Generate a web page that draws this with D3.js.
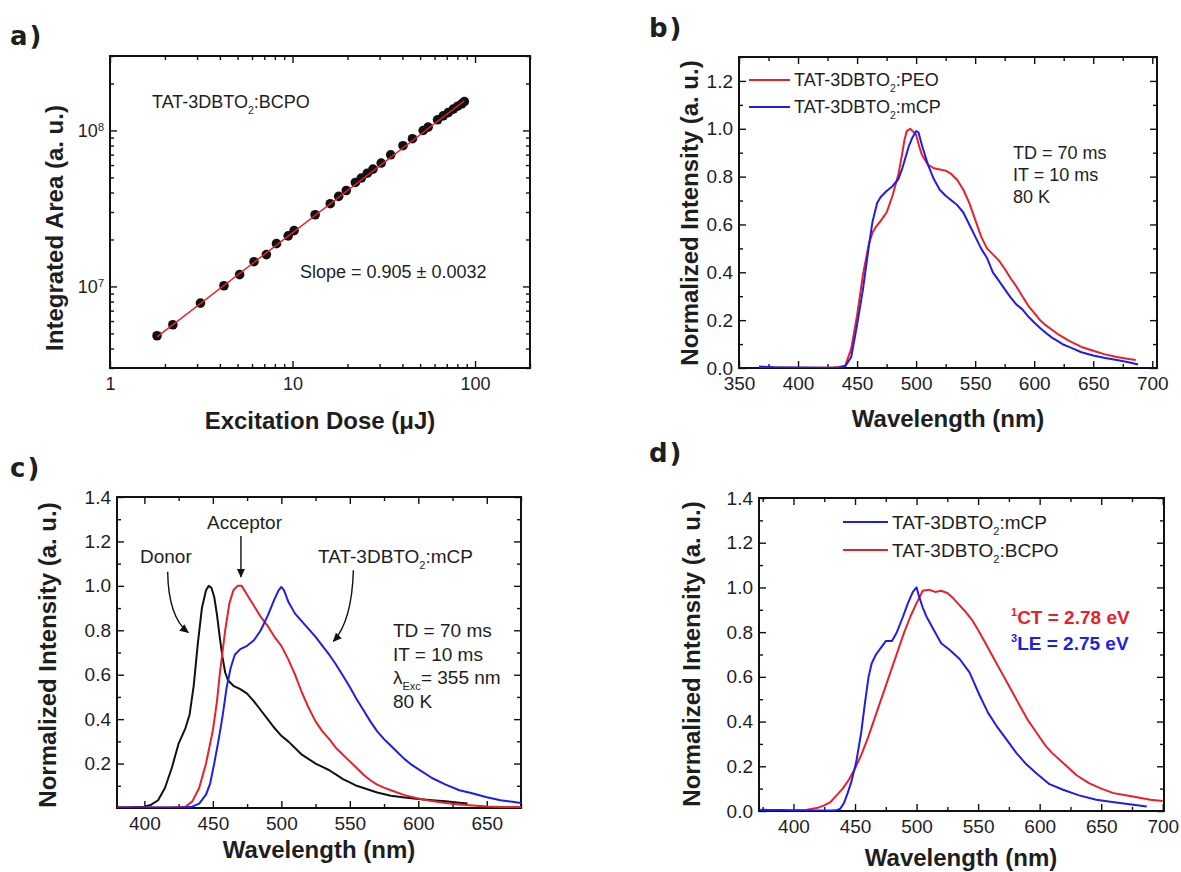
<!DOCTYPE html>
<html><head><meta charset="utf-8">
<script src="https://cdn.jsdelivr.net/npm/d3@7"></script>
<style>
body{margin:0;background:#fff;}
svg{display:block;}
text{font-family:"Liberation Sans",Arial,Helvetica,sans-serif;fill:#1e1e1e;}
</style>
</head><body>
<svg id="chart" width="1181" height="872"></svg>
<script>
// ---------- Panel a data ----------
const aDose = [1.81,2.21,3.13,4.21,5.13,6.15,7.19,8.17,9.47,10.2,13.3,16.1,17.9,19.7,22.1,23.8,25.7,27.6,30.6,34.5,40.3,45.4,52.0,55.3,62.3,66.9,71.3,76.0,80.3,84.5,87.4];
const aArea = [4.83e6,5.68e6,7.82e6,1.01e7,1.19e7,1.44e7,1.60e7,1.88e7,2.11e7,2.28e7,2.88e7,3.39e7,3.78e7,4.12e7,4.64e7,4.95e7,5.32e7,5.65e7,6.18e7,6.98e7,7.98e7,8.85e7,1.0e8,1.05e8,1.17e8,1.24e8,1.30e8,1.37e8,1.43e8,1.48e8,1.53e8];
const aFitDose = [1.81, 87.4];
const aFitArea = [4.75e6, 1.55e8];
const aXMajor = [1, 10, 100];
const aXMinor = [2,3,4,5,6,7,8,9,20,30,40,50,60,70,80,90,200];
const aYMajor = [1e7, 1e8];
const aYMinor = [3e6,4e6,5e6,6e6,7e6,8e6,9e6,2e7,3e7,4e7,5e7,6e7,7e7,8e7,9e7,2e8,3e8];

// ---------- Panel b data ----------
const bPEO = [[367,0.003],[380,0.002],[400,0.001],[420,0.001],[430,0.002],[435,0.004],[440,0.01],[445,0.08],[450,0.22],[455,0.39],[460,0.52],[463,0.565],[466,0.59],[470,0.615],[475,0.65],[480,0.72],[485,0.81],[488,0.89],[490,0.95],[492,0.99],[495,1.0],[497,0.99],[500,0.975],[503,0.92],[505,0.89],[510,0.85],[515,0.835],[520,0.83],[525,0.825],[530,0.81],[535,0.785],[540,0.745],[545,0.69],[550,0.62],[555,0.55],[560,0.50],[565,0.475],[570,0.45],[575,0.415],[580,0.375],[585,0.34],[590,0.30],[595,0.26],[600,0.23],[605,0.20],[610,0.178],[615,0.16],[620,0.142],[625,0.127],[630,0.112],[640,0.088],[650,0.072],[660,0.057],[670,0.046],[680,0.038],[686,0.033]];
const bMCP = [[367,0.006],[375,0.004],[380,0.003],[400,0.002],[420,0.001],[435,0.002],[440,0.008],[445,0.045],[450,0.18],[455,0.33],[460,0.51],[463,0.61],[465,0.65],[467,0.69],[470,0.715],[475,0.74],[480,0.76],[485,0.79],[488,0.83],[491,0.88],[494,0.93],[497,0.965],[500,0.99],[502,0.985],[505,0.93],[510,0.85],[515,0.79],[520,0.745],[525,0.72],[530,0.70],[535,0.68],[540,0.65],[545,0.60],[550,0.55],[555,0.50],[560,0.46],[565,0.40],[570,0.365],[575,0.33],[580,0.295],[585,0.265],[590,0.245],[595,0.215],[600,0.19],[605,0.167],[610,0.146],[615,0.127],[620,0.112],[625,0.097],[630,0.087],[640,0.066],[650,0.052],[660,0.042],[670,0.033],[680,0.024],[688,0.015]];
const bXMajor = [350,400,450,500,550,600,650,700];
const bXMinor = [375,425,475,525,575,625,675];
const bYMajor = [0,0.2,0.4,0.6,0.8,1.0,1.2];
const bYMinor = [0.1,0.3,0.5,0.7,0.9,1.1,1.3];

// ---------- Panel c data ----------
const cDonor = [[380,0.002],[390,0.003],[400,0.006],[405,0.015],[410,0.035],[415,0.09],[420,0.18],[425,0.29],[430,0.36],[433,0.42],[436,0.55],[439,0.74],[442,0.90],[445,0.98],[447,1.0],[449,0.99],[451,0.95],[453,0.87],[455,0.77],[457,0.68],[459,0.61],[461,0.575],[465,0.55],[470,0.535],[475,0.515],[480,0.48],[485,0.44],[490,0.40],[495,0.36],[500,0.325],[505,0.30],[510,0.27],[515,0.24],[520,0.22],[525,0.20],[530,0.185],[535,0.17],[540,0.15],[545,0.13],[550,0.115],[555,0.10],[560,0.09],[570,0.07],[580,0.055],[590,0.047],[600,0.04],[610,0.035],[620,0.03],[630,0.024],[636,0.02]];
const cAcceptor = [[380,0.002],[400,0.002],[420,0.002],[430,0.006],[435,0.03],[440,0.09],[445,0.2],[450,0.35],[453,0.48],[455,0.6],[457,0.7],[459,0.8],[462,0.92],[465,0.98],[468,1.0],[471,1.0],[474,0.97],[477,0.94],[480,0.91],[485,0.86],[490,0.82],[495,0.77],[500,0.73],[505,0.67],[510,0.60],[515,0.52],[520,0.45],[525,0.39],[530,0.345],[535,0.31],[540,0.27],[545,0.24],[550,0.21],[555,0.18],[560,0.15],[565,0.125],[570,0.105],[575,0.092],[580,0.08],[590,0.058],[600,0.043],[610,0.031],[620,0.022],[630,0.016],[640,0.011],[650,0.007],[660,0.005],[675,0.004]];
const cMCP = [[380,0.002],[400,0.002],[420,0.002],[430,0.003],[435,0.006],[440,0.02],[445,0.06],[448,0.11],[451,0.2],[454,0.3],[457,0.41],[460,0.54],[463,0.63],[466,0.69],[470,0.715],[475,0.73],[480,0.755],[485,0.80],[490,0.865],[495,0.94],[498,0.98],[500,0.995],[502,0.98],[505,0.93],[510,0.875],[515,0.84],[520,0.805],[525,0.77],[530,0.73],[535,0.69],[540,0.645],[545,0.595],[550,0.545],[555,0.49],[560,0.44],[565,0.39],[570,0.345],[575,0.31],[580,0.28],[585,0.25],[590,0.22],[595,0.195],[600,0.175],[610,0.135],[620,0.105],[630,0.08],[640,0.065],[650,0.048],[660,0.035],[670,0.027],[675,0.022]];
const cXMajor = [400,450,500,550,600,650];
const cXMinor = [425,475,525,575,625,675];
const cYMajor = [0.2,0.4,0.6,0.8,1.0,1.2,1.4];
const cYMinor = [0.1,0.3,0.5,0.7,0.9,1.1,1.3];

// ---------- Panel d data ----------
const dMCP = [[373,0.006],[380,0.005],[390,0.004],[400,0.003],[410,0.002],[420,0.002],[430,0.002],[435,0.003],[438,0.01],[441,0.035],[444,0.08],[447,0.13],[451,0.22],[455,0.35],[458,0.48],[461,0.6],[463.5,0.66],[467,0.70],[471,0.73],[475,0.76],[480,0.76],[484,0.80],[489,0.87],[493,0.93],[497,0.98],[500,1.0],[502,0.96],[505,0.91],[508,0.87],[513,0.82],[520,0.75],[527,0.72],[535,0.68],[543,0.62],[547,0.57],[551,0.52],[558,0.44],[565,0.38],[573,0.32],[581,0.26],[589,0.21],[597,0.17],[608,0.12],[619,0.095],[632,0.07],[646,0.05],[659,0.04],[673,0.03],[687,0.02]];
const dBCPO = [[400,0.003],[410,0.005],[420,0.015],[425,0.025],[430,0.04],[435,0.07],[440,0.10],[445,0.14],[450,0.19],[455,0.25],[460,0.32],[465,0.40],[470,0.48],[475,0.56],[480,0.64],[485,0.72],[490,0.80],[495,0.87],[500,0.93],[505,0.985],[510,0.99],[515,0.98],[520,0.985],[525,0.975],[530,0.95],[535,0.92],[540,0.89],[545,0.855],[550,0.81],[555,0.76],[560,0.71],[565,0.66],[570,0.61],[575,0.56],[580,0.51],[585,0.46],[590,0.41],[595,0.37],[600,0.33],[605,0.29],[610,0.26],[620,0.21],[630,0.16],[640,0.125],[650,0.10],[660,0.08],[670,0.07],[680,0.06],[690,0.05],[700,0.045]];
const dXMajor = [400,450,500,550,600,650,700];
const dXMinor = [375,425,475,525,575,625,675];
const dYMajor = [0,0.2,0.4,0.6,0.8,1.0,1.2,1.4];
const dYMinor = [0.1,0.3,0.5,0.7,0.9,1.1,1.3];

// ---------- styles ----------
const RED = "#e8202a", BLUE = "#1e1ee8", BLACK = "#111111";
const svg = d3.select("#chart");
const defs = svg.append("defs");
defs.append("marker").attr("id","arrow").attr("viewBox","0 0 10 10")
  .attr("refX",9).attr("refY",5).attr("markerWidth",9).attr("markerHeight",9)
  .attr("markerUnits","userSpaceOnUse").attr("orient","auto")
  .append("path").attr("d","M0,0.5 L10,5 L0,9.5 z").attr("fill",BLACK);

function makePanel(id, box) {
  const W = box.x1 - box.x0, H = box.y1 - box.y0;
  const g = svg.append("g").attr("transform", `translate(${box.x0},${box.y0})`);
  defs.append("clipPath").attr("id", "clip-" + id).append("rect").attr("width", W).attr("height", H);
  return { g, W, H, id };
}

function styleAxis(fs) {
  return sel => {
    sel.attr("font-size", null).attr("font-family", null);
    sel.select(".domain").remove();
    sel.selectAll(".tick line").attr("stroke", BLACK).attr("stroke-width", 1.4);
    sel.selectAll(".tick text").attr("fill", "#1e1e1e").style("font-size", fs + "px");
  };
}

function drawAxes(p, x, y, o) {
  const { g, W, H } = p;
  const st = styleAxis(o.fs);
  g.append("g").attr("transform", `translate(0,${H})`)
    .call(d3.axisBottom(x).tickValues(o.xMajor).tickSize(-7).tickPadding(9).tickFormat(o.xFmt)).call(st);
  g.append("g").attr("transform", `translate(0,${H})`)
    .call(d3.axisBottom(x).tickValues(o.xMinor).tickSize(-4).tickFormat("")).call(st);
  g.append("g").call(d3.axisTop(x).tickValues(o.xMajor).tickSize(-7).tickFormat("")).call(st);
  g.append("g").call(d3.axisTop(x).tickValues(o.xMinor).tickSize(-4).tickFormat("")).call(st);
  const yl = g.append("g").call(d3.axisLeft(y).tickValues(o.yMajor).tickSize(-7).tickPadding(6).tickFormat(o.yFmt)).call(st);
  g.append("g").call(d3.axisLeft(y).tickValues(o.yMinor).tickSize(-4).tickFormat("")).call(st);
  g.append("g").attr("transform", `translate(${W},0)`)
    .call(d3.axisRight(y).tickValues(o.yMajor).tickSize(-7).tickFormat("")).call(st);
  g.append("g").attr("transform", `translate(${W},0)`)
    .call(d3.axisRight(y).tickValues(o.yMinor).tickSize(-4).tickFormat("")).call(st);
  g.append("rect").attr("width", W).attr("height", H).attr("fill", "none")
    .attr("stroke", BLACK).attr("stroke-width", 2);
  return yl;
}

function rich(parent, x, y, segs, fs, extra) {
  const t = parent.append("text").attr("x", x).attr("y", y).style("font-size", fs + "px");
  if (extra) extra(t);
  let shift = 0;
  segs.forEach(s => {
    const sp = t.append("tspan").text(s.t);
    const target = s.sub ? fs * 0.32 : (s.sup ? -fs * 0.42 : 0);
    sp.attr("dy", target - shift);
    shift = target;
    if (s.sub || s.sup) sp.style("font-size", (fs * 0.58) + "px");
  });
  return t;
}

function yTitle(x, y, str) {
  svg.append("text").attr("transform", `translate(${x},${y}) rotate(-90)`)
    .attr("text-anchor", "middle").attr("dy", "0.35em")
    .style("font-size", "24px").style("font-weight", "bold").text(str);
}
function xTitle(x, y, str) {
  svg.append("text").attr("x", x).attr("y", y).attr("text-anchor", "middle")
    .style("font-size", "24px").style("font-weight", "bold").text(str);
}
function panelLabel(x, y, str) {
  svg.append("text").attr("x", x).attr("y", y)
    .style("font-family", "'DejaVu Sans',Verdana,sans-serif")
    .style("font-size", "26px").style("font-weight", "bold").style("letter-spacing", "2px").text(str);
}
function spectrum(p, x, y, data, color) {
  p.g.append("path").datum(data).attr("clip-path", `url(#clip-${p.id})`)
    .attr("fill", "none").attr("stroke", color).attr("stroke-width", 2).attr("stroke-linejoin", "round")
    .attr("d", d3.line().x(d => x(d[0])).y(d => y(d[1])));
}
function legendItem(p, x0, x1, yy, color, segs, fs) {
  p.g.append("line").attr("x1", x0).attr("x2", x1).attr("y1", yy).attr("y2", yy)
    .attr("stroke", color).attr("stroke-width", 2.2);
  rich(p.g, x1 + 4, yy + fs * 0.35, segs, fs);
}
const f1 = d3.format(".1f");

// ================= Panel a =================
{
  const p = makePanel("a", { x0: 110, x1: 530, y0: 56, y1: 368 });
  const x = d3.scaleLog().domain([1, 200]).range([0, p.W]);
  const y = d3.scaleLog().domain([3e6, 3e8]).range([p.H, 0]);
  const yl = drawAxes(p, x, y, { fs: 18, xMajor: aXMajor, xMinor: aXMinor, yMajor: aYMajor, yMinor: aYMinor,
    xFmt: d3.format("d"), yFmt: d => "10" });
  yl.selectAll(".tick text").each(function (d) {
    d3.select(this).append("tspan").attr("dy", "-0.55em").style("font-size", "11px").text(Math.round(Math.log10(d)));
  });
  p.g.selectAll("circle.pt").data(aDose.map((d, i) => [d, aArea[i]])).enter().append("circle")
    .attr("class", "pt").attr("cx", d => x(d[0])).attr("cy", d => y(d[1])).attr("r", 4.8).attr("fill", BLACK);
  p.g.append("path").datum(aFitDose.map((d, i) => [d, aFitArea[i]]))
    .attr("fill", "none").attr("stroke", RED).attr("stroke-width", 1.5)
    .attr("d", d3.line().x(d => x(d[0])).y(d => y(d[1])));
  rich(p.g, 42, 52, [{ t: "TAT-3DBTO" }, { t: "2", sub: true }, { t: ":BCPO" }], 18);
  p.g.append("text").attr("x", 190).attr("y", 222).style("font-size", "18px").text("Slope = 0.905 ± 0.0032");
  yTitle(55, 228, "Integrated Area (a. u.)");
  xTitle(320, 429, "Excitation Dose (\u03BCJ)");
  panelLabel(10, 45, "a)");
}

// ================= Panel b =================
{
  const p = makePanel("b", { x0: 739, x1: 1157, y0: 57, y1: 368 });
  const x = d3.scaleLinear().domain([350, 704]).range([0, p.W]);
  const y = d3.scaleLinear().domain([0, 1.3]).range([p.H, 0]);
  drawAxes(p, x, y, { fs: 19, xMajor: bXMajor, xMinor: bXMinor, yMajor: bYMajor, yMinor: bYMinor,
    xFmt: d3.format("d"), yFmt: f1 });
  spectrum(p, x, y, bPEO, RED);
  spectrum(p, x, y, bMCP, BLUE);
  legendItem(p, 10, 51, 23, RED, [{ t: "TAT-3DBTO" }, { t: "2", sub: true }, { t: ":PEO" }], 18);
  legendItem(p, 10, 51, 50, BLUE, [{ t: "TAT-3DBTO" }, { t: "2", sub: true }, { t: ":mCP" }], 18);
  ["TD = 70 ms", "IT = 10 ms", "80 K"].forEach((s, i) =>
    p.g.append("text").attr("x", 274).attr("y", 102 + i * 22).style("font-size", "18px").text(s));
  yTitle(690, 213, "Normalized Intensity (a. u.)");
  xTitle(948, 427, "Wavelength (nm)");
  panelLabel(649, 37, "b)");
}

// ================= Panel c =================
{
  const p = makePanel("c", { x0: 117, x1: 521, y0: 497, y1: 808 });
  const x = d3.scaleLinear().domain([380, 675]).range([0, p.W]);
  const y = d3.scaleLinear().domain([0, 1.4]).range([p.H, 0]);
  drawAxes(p, x, y, { fs: 19, xMajor: cXMajor, xMinor: cXMinor, yMajor: cYMajor, yMinor: cYMinor,
    xFmt: d3.format("d"), yFmt: f1 });
  spectrum(p, x, y, cDonor, BLACK);
  spectrum(p, x, y, cAcceptor, RED);
  spectrum(p, x, y, cMCP, BLUE);
  const fs = 19;
  p.g.append("text").attr("x", 90).attr("y", 32).style("font-size", fs + "px").text("Acceptor");
  p.g.append("text").attr("x", 23).attr("y", 66).style("font-size", fs + "px").text("Donor");
  rich(p.g, 201, 66, [{ t: "TAT-3DBTO" }, { t: "2", sub: true }, { t: ":mCP" }], fs);
  // arrows (anchored in data units)
  const arrow = (a, c, b) => {
    const pth = d3.path();
    pth.moveTo(x(a[0]), y(a[1]));
    pth.quadraticCurveTo(x(c[0]), y(c[1]), x(b[0]), y(b[1]));
    p.g.append("path").attr("d", pth.toString()).attr("fill", "none").attr("stroke", BLACK)
      .attr("stroke-width", 1.4).attr("marker-end", "url(#arrow)");
  };
  arrow([417, 1.064], [417.5, 0.86], [432, 0.79]);
  arrow([470.5, 1.225], [470.5, 1.13], [470.5, 1.04]);
  arrow([552.6, 1.07], [551.5, 0.84], [538, 0.75]);
  ["TD = 70 ms", "IT = 10 ms"].forEach((s, i) =>
    p.g.append("text").attr("x", 276).attr("y", 140 + i * 23.5).style("font-size", fs + "px").text(s));
  rich(p.g, 276, 187, [{ t: "\u03BB" }, { t: "Exc", sub: true }, { t: "= 355 nm" }], fs);
  p.g.append("text").attr("x", 276).attr("y", 211).style("font-size", fs + "px").text("80 K");
  yTitle(48, 655, "Normalized Intensity (a. u.)");
  xTitle(319, 858, "Wavelength (nm)");
  panelLabel(10, 477, "c)");
}

// ================= Panel d =================
{
  const p = makePanel("d", { x0: 759, x1: 1164, y0: 498, y1: 811 });
  const x = d3.scaleLinear().domain([372, 701]).range([0, p.W]);
  const y = d3.scaleLinear().domain([0, 1.4]).range([p.H, 0]);
  drawAxes(p, x, y, { fs: 19, xMajor: dXMajor, xMinor: dXMinor, yMajor: dYMajor, yMinor: dYMinor,
    xFmt: d3.format("d"), yFmt: f1 });
  spectrum(p, x, y, dBCPO, RED);
  spectrum(p, x, y, dMCP, BLUE);
  legendItem(p, 84, 129, 24, BLUE, [{ t: "TAT-3DBTO" }, { t: "2", sub: true }, { t: ":mCP" }], 19);
  legendItem(p, 84, 129, 52, RED, [{ t: "TAT-3DBTO" }, { t: "2", sub: true }, { t: ":BCPO" }], 19);
  rich(p.g, 252, 126, [{ t: "1", sup: true }, { t: "CT = 2.78 eV" }], 19,
    t => t.style("font-weight", "bold").style("fill", RED));
  rich(p.g, 252, 152, [{ t: "3", sup: true }, { t: "LE = 2.75 eV" }], 19,
    t => t.style("font-weight", "bold").style("fill", BLUE));
  yTitle(692, 654, "Normalized Intensity (a. u.)");
  xTitle(961, 866, "Wavelength (nm)");
  panelLabel(649, 462, "d)");
}
</script>
</body></html>
